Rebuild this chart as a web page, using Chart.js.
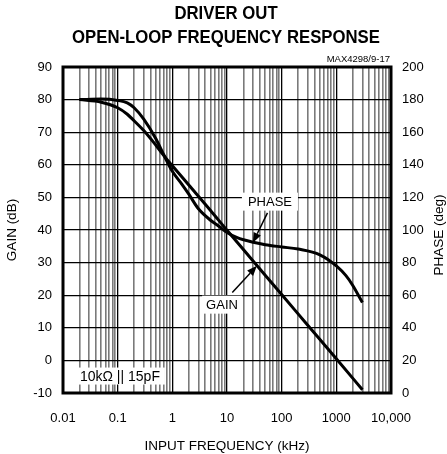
<!DOCTYPE html>
<html>
<head>
<meta charset="utf-8">
<script src="https://cdn.jsdelivr.net/npm/chart.js@4"></script>
<style>
  html, body { margin: 0; padding: 0; background: #fff; }
  canvas { display: block; }
</style>
</head>
<body>
<canvas id="bode" width="447" height="454"></canvas>
<script>
// Gain curve: frequency (kHz) -> gain (dB)
const gainFreq = [0.02, 0.05, 0.1, 0.15, 0.2, 0.3, 0.5, 0.7, 1, 2, 5, 10, 30, 100, 300, 1000, 3000];
const gainDb = [80, 79.2, 77.5, 75.5, 73.5, 70.5, 66, 62.8, 59.7, 53.8, 46, 39.9, 30.5, 20.2, 10.8, 0.5, -9];

// Phase curve: frequency (kHz) -> phase (deg)
const phaseFreq = [0.02, 0.05, 0.1, 0.15, 0.2, 0.3, 0.5, 0.7, 1, 1.5, 2, 3, 5, 7, 10, 15, 20, 30, 50, 100, 200, 500, 1000, 1500, 2000, 3000];
const phaseDeg = [180, 180.3, 179.5, 178, 175, 168, 156, 146, 136, 128, 122, 113, 106, 102.5, 98.5, 95.5, 94, 92.5, 91, 89.6, 88.3, 84.8, 78, 72, 66, 55.5];

// Axis ticks
const decades = [0.01, 0.1, 1, 10, 100, 1000, 10000];
const decadeLabels = ['0.01', '0.1', '1', '10', '100', '1000', '10,000'];
const minorSteps = [2, 3, 4, 5, 6, 7, 8, 9];

// Text annotations, anchored in data coordinates (kHz, dB / deg)
const phaseNote = { text: 'PHASE', f: 61, deg: 117.4, tipF: 29.7, tipDeg: 92.2, tailF: 55, tailDeg: 110.5 };
const gainNote = { text: 'GAIN', f: 8.1, db: 17.1, tipF: 35.2, tipDb: 29, tailF: 12.5, tailDb: 20.8 };
const loadNote = { text: '10k\u03A9 || 15pF', f: 0.11, db: -4.8 };

const FONT = '"Liberation Sans", Arial, Helvetica, sans-serif';

const xTicks = [];
decades.forEach((d, i) => {
  xTicks.push(d);
  if (i < decades.length - 1) minorSteps.forEach(m => xTicks.push(d * m));
});
const isDecade = v => decades.some(d => Math.abs(v - d) < d * 1e-6);

function drawArrow(ctx, x1, y1, x2, y2) {
  const a = Math.atan2(y2 - y1, x2 - x1);
  const len = 10, w = 4;
  ctx.beginPath();
  ctx.moveTo(x1, y1);
  ctx.lineTo(x2 - len * Math.cos(a), y2 - len * Math.sin(a));
  ctx.lineWidth = 1.5;
  ctx.strokeStyle = '#000';
  ctx.stroke();
  ctx.beginPath();
  ctx.moveTo(x2, y2);
  ctx.lineTo(x2 - len * Math.cos(a) + w * Math.sin(a), y2 - len * Math.sin(a) - w * Math.cos(a));
  ctx.lineTo(x2 - len * Math.cos(a) - w * Math.sin(a), y2 - len * Math.sin(a) + w * Math.cos(a));
  ctx.closePath();
  ctx.fillStyle = '#000';
  ctx.fill();
}

function boxLabel(ctx, text, x, y, font, padX, h) {
  ctx.font = font;
  const w = ctx.measureText(text).width + padX * 2;
  ctx.fillStyle = '#fff';
  ctx.fillRect(x - w / 2, y - h / 2, w, h);
  ctx.fillStyle = '#000';
  ctx.textAlign = 'center';
  ctx.textBaseline = 'middle';
  ctx.fillText(text, x, y + 1);
}

const decorations = {
  id: 'decorations',
  beforeDraw(chart) {
    const ctx = chart.ctx;
    ctx.save();
    ctx.fillStyle = '#fff';
    ctx.fillRect(0, 0, chart.width, chart.height);
    ctx.restore();
  },
  beforeDatasetsDraw(chart) {
    const { ctx, scales } = chart;
    const x = scales.x, yg = scales.yGain, yp = scales.yPhase;
    ctx.save();
    boxLabel(ctx, phaseNote.text, x.getPixelForValue(phaseNote.f), yp.getPixelForValue(phaseNote.deg), '13px ' + FONT, 6, 18);
    boxLabel(ctx, gainNote.text, x.getPixelForValue(gainNote.f), yg.getPixelForValue(gainNote.db), '13px ' + FONT, 4, 18);
    boxLabel(ctx, loadNote.text, x.getPixelForValue(loadNote.f), yg.getPixelForValue(loadNote.db), '14px ' + FONT, 5, 17);
    ctx.restore();
  },
  afterDraw(chart) {
    const { ctx, scales, chartArea } = chart;
    const x = scales.x, yg = scales.yGain, yp = scales.yPhase;
    ctx.save();
    // frame
    ctx.lineWidth = 3;
    ctx.strokeStyle = '#000';
    ctx.strokeRect(chartArea.left, chartArea.top, chartArea.right - chartArea.left, chartArea.bottom - chartArea.top);

    // arrows
    drawArrow(ctx, x.getPixelForValue(phaseNote.tailF), yp.getPixelForValue(phaseNote.tailDeg),
      x.getPixelForValue(phaseNote.tipF), yp.getPixelForValue(phaseNote.tipDeg));
    drawArrow(ctx, x.getPixelForValue(gainNote.tailF), yg.getPixelForValue(gainNote.tailDb),
      x.getPixelForValue(gainNote.tipF), yg.getPixelForValue(gainNote.tipDb));

    // title
    ctx.fillStyle = '#000';
    ctx.textAlign = 'center';
    ctx.textBaseline = 'middle';
    ctx.font = 'bold 18px ' + FONT;
    [['DRIVER OUT', 14], ['OPEN-LOOP FREQUENCY RESPONSE', 38]].forEach(([t, ty]) => {
      ctx.save();
      ctx.translate(226, ty);
      ctx.scale(0.93, 1);
      ctx.fillText(t, 0, 0);
      ctx.restore();
    });

    // right axis title, reading bottom to top
    ctx.save();
    ctx.font = '13.5px ' + FONT;
    ctx.translate(439, (chartArea.top + chartArea.bottom) / 2 + 5);
    ctx.rotate(-Math.PI / 2);
    ctx.fillText('PHASE (deg)', 0, 0);
    ctx.restore();

    // figure code
    ctx.font = '9.5px ' + FONT;
    ctx.textAlign = 'right';
    ctx.fillText('MAX4298/9-17', 390, 59);
    ctx.restore();
  }
};

const tickFont = { family: FONT, size: 13 };
const titleFont = { family: FONT, size: 13.5 };

new Chart(document.getElementById('bode'), {
  type: 'line',
  data: {
    datasets: [{
      label: 'GAIN',
      data: gainFreq.map((f, i) => ({ x: f, y: gainDb[i] })),
      yAxisID: 'yGain',
      borderColor: '#000',
      borderWidth: 3,
      pointRadius: 0,
      cubicInterpolationMode: 'monotone',
      fill: false
    }, {
      label: 'PHASE',
      data: phaseFreq.map((f, i) => ({ x: f, y: phaseDeg[i] })),
      yAxisID: 'yPhase',
      borderColor: '#000',
      borderWidth: 3,
      pointRadius: 0,
      cubicInterpolationMode: 'monotone',
      fill: false
    }]
  },
  options: {
    responsive: false,
    animation: false,
    events: [],
    layout: { padding: { top: 67, left: 0, right: 0, bottom: 0 } },
    plugins: { legend: { display: false }, tooltip: { enabled: false }, title: { display: false } },
    scales: {
      x: {
        type: 'logarithmic',
        min: 0.01,
        max: 10000,
        afterBuildTicks: s => { s.ticks = xTicks.map(v => ({ value: v, major: isDecade(v) })); },
        afterFit: s => { s.height = 61; },
        border: { display: false },
        grid: {
          drawTicks: false,
          lineWidth: c => (c.tick && isDecade(c.tick.value)) ? 1.3 : 1.6,
          color: c => (c.tick && isDecade(c.tick.value)) ? '#000' : '#7a7a7a'
        },
        ticks: {
          autoSkip: false,
          maxRotation: 0,
          padding: 18,
          color: '#000',
          font: tickFont,
          callback: v => {
            const i = decades.findIndex(d => Math.abs(v - d) < d * 1e-6);
            return i >= 0 ? decadeLabels[i] : '';
          }
        },
        title: { display: true, text: 'INPUT FREQUENCY (kHz)', color: '#000', font: titleFont, padding: { top: 0, bottom: 0 } }
      },
      yGain: {
        position: 'left',
        min: -10,
        max: 90,
        afterFit: s => { s.width = 63; },
        border: { display: false },
        grid: { drawTicks: false, color: '#000', lineWidth: 1.3 },
        ticks: { stepSize: 10, padding: 11, color: '#000', font: tickFont },
        title: { display: true, text: 'GAIN (dB)', color: '#000', font: titleFont, padding: { top: 4, bottom: 0 } }
      },
      yPhase: {
        position: 'right',
        min: 0,
        max: 200,
        afterFit: s => { s.width = 56; },
        border: { display: false },
        grid: { display: false, drawTicks: false },
        ticks: { stepSize: 20, padding: 11, color: '#000', font: tickFont },
        title: { display: false }
      }
    }
  },
  plugins: [decorations]
});
</script>
</body>
</html>
